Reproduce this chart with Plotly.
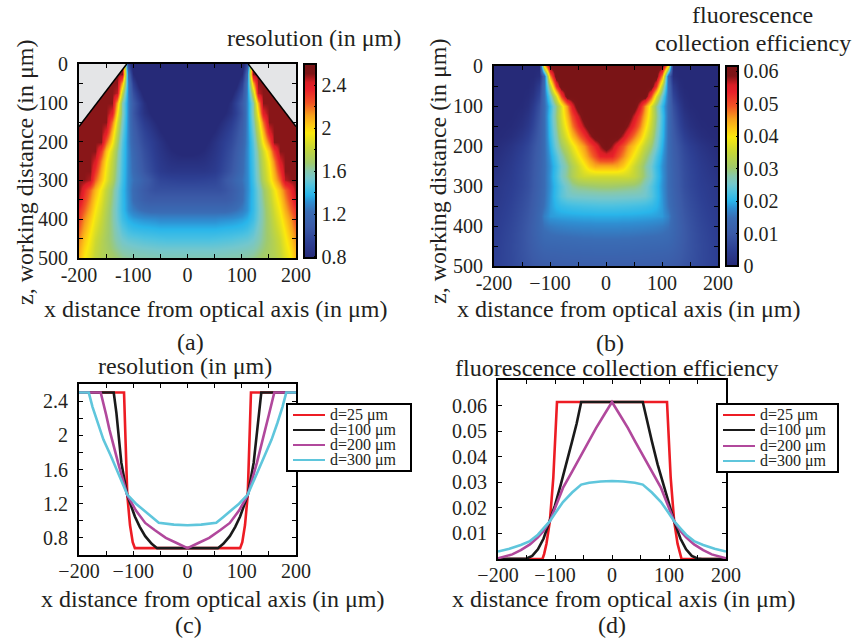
import plotly.graph_objects as go

W, H = 856, 639
SERIF = "Liberation Serif"
INK = "#231f20"

# ---------------- data ----------------
# maps: columns x = 0..200 um (map is mirror-symmetric about x = 0), rows z = 0..500 um
map_x_half_um = [0, 10, 20, 30, 40, 50, 60, 70, 80, 90, 100, 110, 120, 130, 140, 150, 160, 170, 180, 190, 200]
map_z_um = [0, 25, 50, 75, 100, 125, 150, 175, 200, 225, 250, 275, 300, 325, 350, 375, 400, 425, 450, 475, 500]

resolution_map_half = [
    [0.68, 0.68, 0.68, 0.68, 0.68, 0.68, 0.68, 0.68, 0.68, 0.68, 0.68, 1.00, 2.50, 2.50, 2.50, 2.50, 2.50, 2.50, 2.50, 2.50, 2.50],
    [0.68, 0.68, 0.68, 0.68, 0.68, 0.68, 0.68, 0.68, 0.68, 0.68, 0.80, 1.20, 2.50, 2.50, 2.50, 2.50, 2.50, 2.50, 2.50, 2.50, 2.50],
    [0.68, 0.68, 0.68, 0.68, 0.68, 0.68, 0.68, 0.68, 0.68, 0.74, 0.93, 1.27, 2.10, 2.50, 2.50, 2.50, 2.50, 2.50, 2.50, 2.50, 2.50],
    [0.68, 0.68, 0.68, 0.68, 0.68, 0.68, 0.68, 0.68, 0.74, 0.86, 1.02, 1.28, 1.80, 2.45, 2.50, 2.50, 2.50, 2.50, 2.50, 2.50, 2.50],
    [0.68, 0.68, 0.68, 0.68, 0.68, 0.68, 0.69, 0.75, 0.83, 0.95, 1.09, 1.29, 1.60, 2.10, 2.50, 2.50, 2.50, 2.50, 2.50, 2.50, 2.50],
    [0.68, 0.68, 0.68, 0.68, 0.68, 0.70, 0.74, 0.79, 0.85, 0.94, 1.07, 1.29, 1.60, 1.97, 2.40, 2.50, 2.50, 2.50, 2.50, 2.50, 2.50],
    [0.68, 0.68, 0.68, 0.68, 0.72, 0.76, 0.80, 0.85, 0.91, 0.99, 1.10, 1.29, 1.56, 1.86, 2.20, 2.50, 2.50, 2.50, 2.50, 2.50, 2.50],
    [0.68, 0.68, 0.69, 0.72, 0.76, 0.80, 0.85, 0.90, 0.96, 1.03, 1.13, 1.29, 1.52, 1.78, 2.07, 2.40, 2.50, 2.50, 2.50, 2.50, 2.50],
    [0.68, 0.71, 0.74, 0.77, 0.80, 0.85, 0.895, 0.94, 0.99, 1.06, 1.15, 1.29, 1.48, 1.71, 1.97, 2.22, 2.50, 2.50, 2.50, 2.50, 2.50],
    [0.76, 0.765, 0.78, 0.80, 0.83, 0.87, 0.91, 0.96, 1.02, 1.09, 1.18, 1.30, 1.46, 1.65, 1.85, 2.05, 2.30, 2.50, 2.50, 2.50, 2.50],
    [0.83, 0.83, 0.83, 0.84, 0.86, 0.89, 0.93, 0.98, 1.04, 1.11, 1.20, 1.30, 1.45, 1.62, 1.80, 1.97, 2.17, 2.42, 2.50, 2.50, 2.50],
    [0.88, 0.88, 0.88, 0.88, 0.89, 0.91, 0.95, 1.00, 1.06, 1.13, 1.21, 1.30, 1.44, 1.60, 1.77, 1.93, 2.10, 2.32, 2.50, 2.50, 2.50],
    [0.95, 0.95, 0.952, 0.957, 0.963, 0.972, 1.01, 1.065, 1.12, 1.18, 1.235, 1.30, 1.43, 1.58, 1.74, 1.90, 2.05, 2.22, 2.46, 2.50, 2.50],
    [1.03, 1.03, 1.03, 1.03, 1.03, 1.03, 1.03, 1.05, 1.09, 1.14, 1.21, 1.30, 1.41, 1.53, 1.66, 1.80, 1.93, 2.07, 2.21, 2.35, 2.50],
    [1.10, 1.10, 1.10, 1.10, 1.10, 1.10, 1.10, 1.10, 1.12, 1.16, 1.22, 1.31, 1.41, 1.52, 1.64, 1.77, 1.89, 2.01, 2.15, 2.29, 2.45],
    [1.20, 1.20, 1.20, 1.20, 1.20, 1.20, 1.20, 1.20, 1.215, 1.235, 1.27, 1.32, 1.41, 1.51, 1.62, 1.74, 1.85, 1.96, 2.09, 2.22, 2.33],
    [1.30, 1.30, 1.30, 1.30, 1.30, 1.30, 1.31, 1.315, 1.32, 1.33, 1.345, 1.37, 1.43, 1.52, 1.62, 1.72, 1.82, 1.92, 2.03, 2.15, 2.28],
    [1.38, 1.38, 1.38, 1.38, 1.38, 1.38, 1.385, 1.39, 1.395, 1.40, 1.41, 1.43, 1.48, 1.55, 1.63, 1.71, 1.79, 1.88, 1.98, 2.10, 2.22],
    [1.45, 1.45, 1.45, 1.45, 1.45, 1.455, 1.46, 1.465, 1.47, 1.48, 1.49, 1.50, 1.53, 1.58, 1.64, 1.70, 1.76, 1.84, 1.94, 2.04, 2.16],
    [1.52, 1.52, 1.52, 1.52, 1.52, 1.522, 1.525, 1.53, 1.535, 1.54, 1.55, 1.56, 1.58, 1.62, 1.66, 1.71, 1.75, 1.82, 1.91, 2.00, 2.11],
    [1.58, 1.58, 1.58, 1.58, 1.58, 1.58, 1.59, 1.59, 1.60, 1.60, 1.61, 1.62, 1.64, 1.67, 1.70, 1.72, 1.745, 1.80, 1.88, 1.96, 2.07],
]

efficiency_map_half = [
    [0.0615, 0.0615, 0.0615, 0.0615, 0.0615, 0.0615, 0.0615, 0.0615, 0.0615, 0.0615, 0.0615, 0.040, 0, 0, 0, 0, 0, 0, 0, 0, 0],
    [0.0615, 0.0615, 0.0615, 0.0615, 0.0615, 0.0615, 0.0615, 0.0615, 0.0615, 0.0615, 0.046, 0.013, 0.001, 0, 0, 0, 0, 0, 0, 0, 0],
    [0.0615, 0.0615, 0.0615, 0.0615, 0.0615, 0.0615, 0.0615, 0.0615, 0.0615, 0.052, 0.033, 0.0145, 0.004, 0.0008, 0, 0, 0, 0, 0, 0, 0],
    [0.0615, 0.0615, 0.0615, 0.0615, 0.0615, 0.0615, 0.0615, 0.0615, 0.050, 0.037, 0.025, 0.0145, 0.006, 0.002, 0.0005, 0, 0, 0, 0, 0, 0],
    [0.0615, 0.0615, 0.0615, 0.0615, 0.0615, 0.0615, 0.0545, 0.046, 0.037, 0.029, 0.021, 0.0143, 0.008, 0.0038, 0.0012, 0.0002, 0, 0, 0, 0, 0],
    [0.0615, 0.0615, 0.0615, 0.0615, 0.0615, 0.056, 0.050, 0.0435, 0.0365, 0.0295, 0.022, 0.0145, 0.009, 0.005, 0.0024, 0.0009, 0.0003, 0, 0, 0, 0],
    [0.0615, 0.0615, 0.0615, 0.0615, 0.0575, 0.0525, 0.047, 0.041, 0.035, 0.0285, 0.0215, 0.0145, 0.0098, 0.006, 0.0034, 0.0017, 0.0008, 0.0003, 0.0001, 0, 0],
    [0.0615, 0.0615, 0.061, 0.0565, 0.052, 0.0475, 0.043, 0.038, 0.033, 0.027, 0.021, 0.0145, 0.0104, 0.0073, 0.0048, 0.003, 0.0018, 0.001, 0.0005, 0.0002, 0.0001],
    [0.0614, 0.0575, 0.0535, 0.0495, 0.0457, 0.0422, 0.038, 0.0342, 0.030, 0.0255, 0.0199, 0.0145, 0.011, 0.0085, 0.0063, 0.0046, 0.0034, 0.0024, 0.0016, 0.001, 0.0005],
    [0.054, 0.0535, 0.050, 0.0465, 0.043, 0.039, 0.035, 0.031, 0.027, 0.023, 0.0188, 0.0145, 0.0114, 0.009, 0.007, 0.0054, 0.0042, 0.0032, 0.0024, 0.0017, 0.0011],
    [0.0445, 0.0445, 0.0443, 0.042, 0.039, 0.0355, 0.032, 0.0285, 0.025, 0.0215, 0.018, 0.0145, 0.0117, 0.0093, 0.0074, 0.0059, 0.0048, 0.0038, 0.003, 0.0023, 0.0017],
    [0.036, 0.036, 0.036, 0.036, 0.0358, 0.0345, 0.0318, 0.0288, 0.0255, 0.022, 0.0183, 0.0146, 0.0119, 0.0096, 0.0077, 0.0062, 0.0051, 0.0042, 0.0035, 0.0029, 0.0023],
    [0.0305, 0.0304, 0.0302, 0.0299, 0.0296, 0.0293, 0.0282, 0.026, 0.0235, 0.021, 0.018, 0.0146, 0.012, 0.0097, 0.0078, 0.0064, 0.0054, 0.0046, 0.004, 0.0034, 0.0029],
    [0.026, 0.026, 0.0259, 0.0258, 0.0257, 0.0256, 0.0254, 0.025, 0.0235, 0.0212, 0.0183, 0.0148, 0.0124, 0.0102, 0.0084, 0.007, 0.0059, 0.005, 0.0043, 0.0037, 0.0032],
    [0.0225, 0.0225, 0.0224, 0.0223, 0.0222, 0.022, 0.0218, 0.0215, 0.021, 0.0202, 0.0185, 0.0152, 0.0128, 0.0107, 0.0089, 0.0075, 0.0064, 0.0055, 0.0047, 0.0041, 0.0036],
    [0.0195, 0.0195, 0.0195, 0.0194, 0.0194, 0.0193, 0.0192, 0.0191, 0.019, 0.0188, 0.0185, 0.0165, 0.0135, 0.0111, 0.0094, 0.008, 0.0068, 0.0059, 0.0051, 0.0045, 0.0039],
    [0.0172, 0.0172, 0.0172, 0.0171, 0.0171, 0.017, 0.0169, 0.0168, 0.0166, 0.0164, 0.016, 0.0152, 0.0134, 0.0115, 0.0098, 0.0084, 0.0072, 0.0063, 0.0055, 0.0048, 0.0042],
    [0.0153, 0.0153, 0.0153, 0.0152, 0.0152, 0.0151, 0.015, 0.0149, 0.0148, 0.0147, 0.0145, 0.014, 0.0128, 0.0113, 0.0099, 0.0086, 0.0075, 0.0066, 0.0058, 0.0051, 0.0045],
    [0.0137, 0.0137, 0.0137, 0.0136, 0.0136, 0.0135, 0.0134, 0.0133, 0.0132, 0.0131, 0.013, 0.0127, 0.012, 0.0109, 0.0097, 0.0086, 0.0076, 0.0067, 0.006, 0.0053, 0.0047],
    [0.0123, 0.0123, 0.0123, 0.0122, 0.0122, 0.0121, 0.0121, 0.012, 0.0119, 0.0118, 0.0117, 0.0115, 0.011, 0.0102, 0.0093, 0.0084, 0.0075, 0.0067, 0.006, 0.0054, 0.0048],
    [0.0111, 0.0111, 0.0111, 0.011, 0.011, 0.011, 0.0109, 0.0109, 0.0108, 0.0107, 0.0106, 0.0104, 0.010, 0.0095, 0.0088, 0.008, 0.0073, 0.0066, 0.006, 0.0054, 0.0049],
]

# undefined (grey) corner of the resolution map, left side; the right side is its mirror
gray_corner_x_um = [-200, -112, -200]
gray_corner_z_um = [0, 0, 161]

# line profiles, resolution (um) vs x (um)
res_d25_x = [-200, -117, -114, -111, -106, -101, -97, 97, 101, 106, 111, 114, 117, 200]
res_d25_y = [2.5, 2.5, 1.9, 1.3, 0.95, 0.75, 0.68, 0.68, 0.75, 0.95, 1.3, 1.9, 2.5, 2.5]
res_d100_x = [-200, -136, -131, -122, -111, -97, -88, -78, -66, -56, 56, 66, 78, 88, 97, 111, 122, 131, 136, 200]
res_d100_y = [2.5, 2.5, 2.26, 1.68, 1.3, 1.05, 0.93, 0.82, 0.73, 0.68, 0.68, 0.73, 0.82, 0.93, 1.05, 1.3, 1.68, 2.26, 2.5, 2.5]
res_d200_x = [-200, -160, -150, -144, -128, -111, -95, -78, -60, -40, -20, 0, 20, 40, 60, 78, 95, 111, 128, 144, 150, 160, 200]
res_d200_y = [2.5, 2.5, 2.24, 2.07, 1.68, 1.3, 1.12, 0.975, 0.89, 0.8, 0.74, 0.68, 0.74, 0.8, 0.89, 0.975, 1.12, 1.3, 1.68, 2.07, 2.24, 2.5, 2.5]
res_d300_x = [-200, -182, -175, -166, -155, -141, -126, -111, -95, -78, -65, -53, -25, 0, 25, 53, 65, 78, 95, 111, 126, 141, 155, 166, 175, 182, 200]
res_d300_y = [2.5, 2.5, 2.33, 2.15, 1.95, 1.755, 1.52, 1.306, 1.2, 1.11, 1.04, 0.976, 0.955, 0.948, 0.955, 0.976, 1.04, 1.11, 1.2, 1.306, 1.52, 1.755, 1.95, 2.15, 2.33, 2.5, 2.5]

# line profiles, fluorescence collection efficiency vs x (um)
eff_d25_x = [-200, -122, -119, -115, -109, -103, -96.5, 96.5, 103, 109, 115, 119, 122, 200]
eff_d25_y = [0, 0, 0.002, 0.006, 0.0148, 0.0317, 0.0614, 0.0614, 0.0317, 0.0148, 0.006, 0.002, 0, 0]
eff_d100_x = [-200, -158, -150, -140, -130, -120, -109, -100, -90, -80, -70, -62, -54, 54, 62, 70, 80, 90, 100, 109, 120, 130, 140, 150, 158, 200]
eff_d100_y = [0, 0, 0.0002, 0.0012, 0.0038, 0.008, 0.0148, 0.021, 0.029, 0.037, 0.046, 0.053, 0.0614, 0.0614, 0.053, 0.046, 0.037, 0.029, 0.021, 0.0148, 0.008, 0.0038, 0.0012, 0.0002, 0, 0]
eff_d200_x = [-200, -190, -175, -160, -144, -130, -120, -109, -100, -86, -70, -57, -40, -28, -14, 0, 14, 28, 40, 57, 70, 86, 100, 109, 120, 130, 144, 160, 175, 190, 200]
eff_d200_y = [0.0003, 0.0008, 0.0018, 0.0035, 0.0057, 0.0085, 0.011, 0.0148, 0.0199, 0.0278, 0.0342, 0.0395, 0.0462, 0.0512, 0.0563, 0.0614, 0.0563, 0.0512, 0.0462, 0.0395, 0.0342, 0.0278, 0.0199, 0.0148, 0.011, 0.0085, 0.0057, 0.0035, 0.0018, 0.0008, 0.0003]
eff_d300_x = [-200, -180, -160, -144, -130, -120, -109, -100, -86, -70, -54, -40, -20, 0, 20, 40, 54, 70, 86, 100, 109, 120, 130, 144, 160, 180, 200]
eff_d300_y = [0.0029, 0.004, 0.0055, 0.007, 0.0095, 0.012, 0.0148, 0.0178, 0.0223, 0.026, 0.0291, 0.0298, 0.0303, 0.0305, 0.0303, 0.0298, 0.0291, 0.026, 0.0223, 0.0178, 0.0148, 0.012, 0.0095, 0.007, 0.0055, 0.004, 0.0029]

series_labels = ["d=25 \u03bcm", "d=100 \u03bcm", "d=200 \u03bcm", "d=300 \u03bcm"]
series_colors = ["#ed1c24", "#1a1a1a", "#b1489c", "#5fc6dc"]

eff_ticks = [0, 0.01, 0.02, 0.03, 0.04, 0.05, 0.06]

# ---------------- helpers ----------------
def fx(p):
    return p / W

def fy(p):
    return 1 - p / H

def mirror_rows(rows):
    return [list(r[:0:-1]) + list(r) for r in rows]

map_x_um = [-v for v in map_x_half_um[:0:-1]] + map_x_half_um

JET = [
    [0.000, "#262a78"], [0.080, "#2d3f93"], [0.160, "#3b5aa7"], [0.240, "#3a6db5"],
    [0.290, "#2f8fd2"], [0.325, "#29b5ea"], [0.370, "#4ec2e0"], [0.410, "#74c7cc"],
    [0.450, "#88c8aa"], [0.490, "#a0ca6c"], [0.570, "#c8d735"], [0.645, "#fbe90d"],
    [0.690, "#fdc515"], [0.735, "#f7a11c"], [0.800, "#f15325"], [0.870, "#e8202a"],
    [0.905, "#d81e25"], [0.930, "#a8181c"], [0.950, "#7e1517"], [1.000, "#7a1416"],
]

tickfont = dict(family=SERIF, size=20, color=INK)

def axis(domain, anchor, **kw):
    d = dict(domain=domain, anchor=anchor, showline=True, linecolor="black", linewidth=2,
             mirror="ticks", ticks="inside", ticklen=4, tickwidth=1, tickcolor="black",
             showgrid=False, zeroline=False, tickfont=tickfont, ticklabelstandoff=5,
             automargin=False)
    d.update(kw)
    return d

fig = go.Figure()

# ---------------- (a) resolution map ----------------
fig.add_trace(go.Heatmap(
    x=map_x_um, y=map_z_um, z=mirror_rows(resolution_map_half), zsmooth="best",
    colorscale=JET, zmin=0.79, zmax=2.60, xaxis="x", yaxis="y", hoverinfo="skip",
    colorbar=dict(x=fx(304), xanchor="left", xpad=0, y=fy(161), yanchor="middle", ypad=0,
                  len=194 / H, lenmode="fraction", thickness=12, thicknessmode="pixels",
                  outlinewidth=2, outlinecolor="black",
                  tickvals=[0.8, 1.0, 1.2, 1.4, 1.6, 1.8, 2.0, 2.2, 2.4],
                  ticktext=["0.8", "", "1.2", "", "1.6", "", "2", "", "2.4"],
                  ticks="inside", ticklen=3, tickcolor="black", tickfont=tickfont),
))
for sgn in (1, -1):
    gx = [sgn * v for v in gray_corner_x_um]
    fig.add_trace(go.Scatter(x=gx, y=gray_corner_z_um, fill="toself", fillcolor="#e4e5e7",
                             mode="none", xaxis="x", yaxis="y", hoverinfo="skip", showlegend=False))
    fig.add_trace(go.Scatter(x=gx[1:], y=gray_corner_z_um[1:], mode="lines",
                             line=dict(color="black", width=1.5), xaxis="x", yaxis="y",
                             hoverinfo="skip", showlegend=False))

# ---------------- (b) efficiency map ----------------
fig.add_trace(go.Heatmap(
    x=map_x_um, y=map_z_um, z=mirror_rows(efficiency_map_half), zsmooth="best",
    colorscale=JET, zmin=0, zmax=0.0616, xaxis="x2", yaxis="y2", hoverinfo="skip",
    colorbar=dict(x=fx(726), xanchor="left", xpad=0, y=fy(166), yanchor="middle", ypad=0,
                  len=200 / H, lenmode="fraction", thickness=12, thicknessmode="pixels",
                  outlinewidth=2, outlinecolor="black",
                  tickvals=eff_ticks, ticktext=["0", "0.01", "0.02", "0.03", "0.04", "0.05", "0.06"],
                  ticks="inside", ticklen=3, tickcolor="black", tickfont=tickfont),
))

# ---------------- (c) resolution profiles ----------------
res_series = [(res_d25_x, res_d25_y), (res_d100_x, res_d100_y), (res_d200_x, res_d200_y), (res_d300_x, res_d300_y)]
for (xs, ys), name, col in zip(res_series, series_labels, series_colors):
    fig.add_trace(go.Scatter(x=xs, y=ys, mode="lines", name=name, line=dict(color=col, width=2.6),
                             xaxis="x3", yaxis="y3", showlegend=False, hoverinfo="skip"))

# ---------------- (d) efficiency profiles ----------------
eff_series = [(eff_d25_x, eff_d25_y), (eff_d100_x, eff_d100_y), (eff_d200_x, eff_d200_y), (eff_d300_x, eff_d300_y)]
for (xs, ys), name, col in zip(eff_series, series_labels, series_colors):
    fig.add_trace(go.Scatter(x=xs, y=ys, mode="lines", name=name, line=dict(color=col, width=2.6),
                             xaxis="x4", yaxis="y4", showlegend=False, hoverinfo="skip"))

x50 = [-200, -150, -100, -50, 0, 50, 100, 150, 200]
z50 = [0, 50, 100, 150, 200, 250, 300, 350, 400, 450, 500]
ztext = ["0", "", "100", "", "200", "", "300", "", "400", "", "500"]

fig.update_layout(
    width=W, height=H, margin=dict(l=0, r=0, t=0, b=0, pad=0, autoexpand=False),
    paper_bgcolor="white", plot_bgcolor="white", showlegend=False,
    font=dict(family=SERIF, color=INK),
    xaxis=axis([fx(79), fx(296)], "y", range=[-200, 200], tickvals=x50, ticklabelstandoff=-2,
               ticktext=["-200", "", "-100", "", "0", "", "100", "", "200"]),
    yaxis=axis([fy(258), fy(64)], "x", range=[500, 0], tickvals=z50, ticktext=ztext),
    xaxis2=axis([fx(494), fx(718)], "y2", range=[-200, 200], tickvals=x50, ticklabelstandoff=-2,
                ticktext=["-200", "", "\u2212100", "", "0", "", "100", "", "200"]),
    yaxis2=axis([fy(266), fy(66)], "x2", range=[500, 0], tickvals=z50, ticktext=ztext),
    xaxis3=axis([fx(79), fx(296)], "y3", range=[-200, 200], tickvals=x50, ticklabelstandoff=-3,
                ticktext=["\u2212200", "", "\u2212100", "", "0", "", "100", "", "200"]),
    yaxis3=axis([fy(555), fy(384)], "x3", range=[0.6, 2.6],
                tickvals=[0.8, 1.0, 1.2, 1.4, 1.6, 1.8, 2.0, 2.2, 2.4],
                ticktext=["0.8", "", "1.2", "", "1.6", "", "2", "", "2.4"]),
    xaxis4=axis([fx(498), fx(726)], "y4", range=[-200, 200], tickvals=x50, ticklabelstandoff=-3,
                ticktext=["\u2212200", "", "\u2212100", "", "0", "", "100", "", "200"]),
    yaxis4=axis([fy(559), fy(380)], "x4", range=[0, 0.07],
                tickvals=[0.01, 0.02, 0.03, 0.04, 0.05, 0.06],
                ticktext=["0.01", "0.02", "0.03", "0.04", "0.05", "0.06"]),
)

# ---------------- text ----------------
def label(text, x, y, size=24, angle=0, xanchor="center"):
    fig.add_annotation(text=text, x=fx(x), y=fy(y), xref="paper", yref="paper", showarrow=False,
                       xanchor=xanchor, yanchor="middle", textangle=angle,
                       font=dict(family=SERIF, size=size, color=INK))

label("resolution (in \u03bcm)", 314, 38)
label("z, working distance (in \u03bcm)", 25, 173, angle=-90)
label("x distance from optical axis (in \u03bcm)", 216, 309)
label("(a)", 190, 342)

label("fluorescence", 752, 15)
label("collection efficiency", 853, 43, xanchor="right")
label("z, working distance (in \u03bcm)", 438, 172, angle=-90)
label("x distance from optical axis (in \u03bcm)", 628, 309)
label("(b)", 610, 343)

label("resolution (in \u03bcm)", 185, 366)
label("x distance from optical axis (in \u03bcm)", 212, 599)
label("(c)", 188, 625)

label("fluorescence collection efficiency", 616, 368)
label("x distance from optical axis (in \u03bcm)", 623, 599)
label("(d)", 612, 625)

# ---------------- legends (boxes drawn in the figure) ----------------
def legend_box(x0, x1, y0, y1, line_x0, line_x1, text_x, rows_y):
    fig.add_shape(type="rect", xref="paper", yref="paper", x0=fx(x0), x1=fx(x1), y0=fy(y1), y1=fy(y0),
                  line=dict(color="black", width=2), fillcolor="white", layer="above")
    for name, col, ry in zip(series_labels, series_colors, rows_y):
        fig.add_shape(type="line", xref="paper", yref="paper", x0=fx(line_x0), x1=fx(line_x1),
                      y0=fy(ry), y1=fy(ry), line=dict(color=col, width=2), layer="above")
        label(name, text_x, ry, size=16, xanchor="left")

legend_box(287, 411, 404, 471, 293, 325, 328, [415, 430, 445, 460])
legend_box(717, 838, 404, 472, 723, 755, 758, [415, 430, 446, 461])

fig.write_html("out.html", config={"displayModeBar": False},
               post_script="document.body.style.margin='0';document.body.style.overflow='hidden';")
